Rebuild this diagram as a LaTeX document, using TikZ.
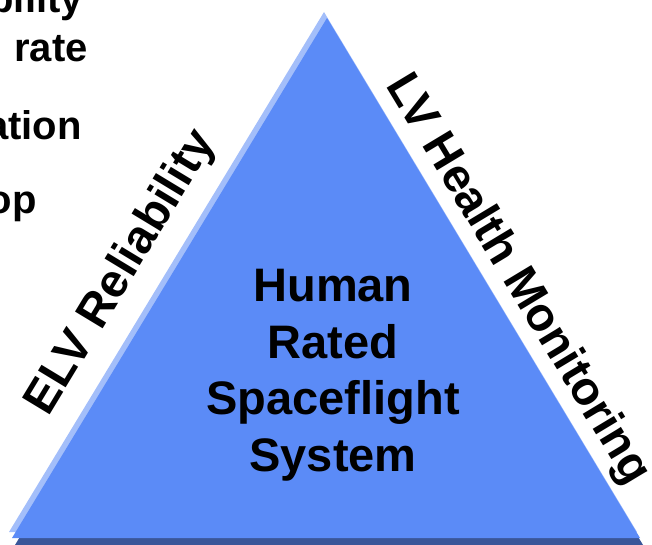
\documentclass[tikz,border=0pt]{standalone}
\usepackage{fontspec}
\setmainfont{Liberation Sans}
\definecolor{trimain}{RGB}{91,139,247}
\definecolor{trilight}{RGB}{163,190,250}
\definecolor{tridark}{RGB}{58,86,153}
\begin{document}
\begin{tikzpicture}[x=1pt,y=-1pt,
  bigtxt/.style={font=\bfseries\fontsize{47}{56.5}\selectfont,inner sep=0pt},
  sidetxt/.style={font=\bfseries\fontsize{40}{48}\selectfont,inner sep=0pt}]
\useasboundingbox (0,0) rectangle (652,545);
\clip (0,0) rectangle (652,545);
% layered triangle
\fill[tridark] (330,25) -- (15,545) -- (643,545) -- cycle;
\fill[trilight] (324,12) -- (9,532) -- (637,532) -- cycle;
\fill[trimain] (327,18) -- (12,538) -- (640,538) -- cycle;
% centre text
\node[bigtxt,align=center] (core) at (333,375) {Human\\Rated\\Spaceflight\\System};
% edge labels
\node[bigtxt,rotate=58.8] (elv) at (122,273) {ELV Reliability};
\node[bigtxt,rotate=-58.9] (lvhm) at (517,280) {LV Health Monitoring};
% clipped text at top left
\node[sidetxt,anchor=base east] (t1) at (83,13) {bility};
\node[sidetxt,anchor=base east] (t2) at (88,62) {rate};
\node[sidetxt,anchor=base east] (t3) at (82,140) {ation};
\node[sidetxt,anchor=base east] (t4) at (37,213) {op};
\end{tikzpicture}
\end{document}
